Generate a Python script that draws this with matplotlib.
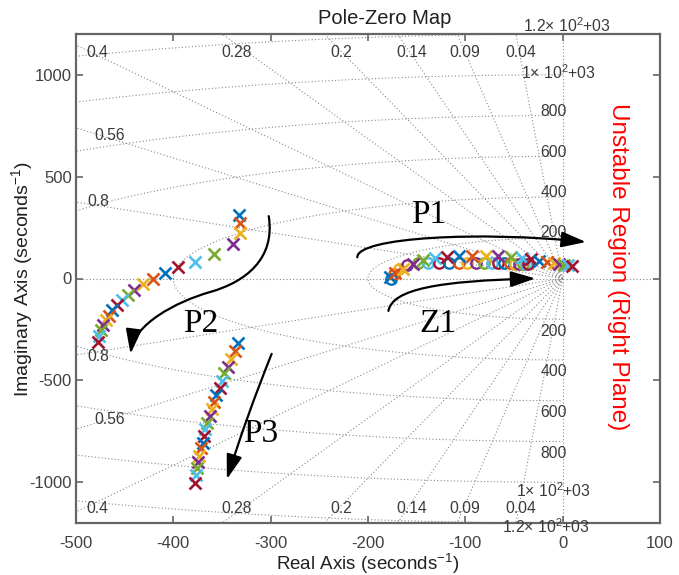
import numpy as np
import matplotlib
matplotlib.use('Agg')
import matplotlib.pyplot as plt
from matplotlib.path import Path
from matplotlib.patches import FancyArrowPatch

plt.rcParams['font.family'] = ['Liberation Sans', 'DejaVu Sans']
plt.rcParams['mathtext.fontset'] = 'custom'
plt.rcParams['mathtext.rm'] = 'Liberation Sans'
plt.rcParams['mathtext.it'] = 'Liberation Sans:italic'
plt.rcParams['axes.unicode_minus'] = False

# MATLAB default colour order
colors = ['#0072BD', '#D95319', '#EDB120', '#7E2F8E', '#77AC30', '#4DBEEE', '#A2142F']

# ---- data ----
p2_real = [-333, -331, -331, -339, -358, -378, -395, -409, -421, -431, -440,
           -447, -453, -458, -463, -466, -469, -472, -474, -476, -477]
p2_imag = [310, 270, 221, 167, 119, 82, 54, 26, -2, -28, -56,
           -81, -105, -130, -155, -182, -206, -229, -254, -282, -312]

p3_real = [-334, -337, -341, -344, -348, -350, -352, -356, -358, -360, -362,
           -365, -367, -369, -370, -372, -374, -375, -376, -377, -378]
p3_imag = [-316, -356, -395, -433, -464, -501, -538, -571, -604, -640, -676,
           -711, -738, -771, -805, -834, -869, -903, -932, -963, -1002]

p1_real = [-177, -172, -164, -154, -143, -131, -119, -107, -93, -79, -66,
           -53, -42, -33, -24, -16, -9, -4, 1, 5, 10]
p1_imag = [8, 25, 48, 72, 90, 100, 106, 108, 110, 110, 108,
           105, 100, 95, 88, 80, 75, 70, 66, 64, 62]

z1_real = [-176, -173, -168, -160, -149, -138, -127, -117, -107, -98, -89,
           -81, -73, -66, -60, -54, -49, -45, -41, -38, -36]
z1_imag = [0, 22, 45, 66, 74, 76, 77, 77, 77, 77, 76,
           76, 75, 75, 74, 74, 73, 73, 72, 72, 71]

zeta_values = [0.04, 0.09, 0.14, 0.2, 0.28, 0.4, 0.56, 0.8]
zeta_labels = ['0.04', '0.09', '0.14', '0.2', '0.28', '0.4', '0.56', '0.8']
zeta_label_x = [-43, -101, -155, -227, -335, -478, -465, -477]
zeta_label_y = [1110, 1110, 1110, 1110, 1110, 1110, 700, 378]
zeta_label_y_dn = [-1128, -1128, -1128, -1128, -1128, -1128, -690, -382]

wn_values = [200, 400, 600, 800, 1000, 1200]
wn_labels = ['200', '400', '600', '800', r'1$\times$ 10$^{2}$+03', r'1.2$\times$ 10$^{2}$+03']
wn_label_up_y = [228, 424, 620, 821, 1012, 1243]
wn_label_dn_y = [-262, -458, -659, -860, -1042, -1218]
wn_label_x = [-9, -9, -9, -9, -4, 4]
wn_label_dn_x = [-9, -9, -9, -9, -10, -17]

xticks = [-500, -400, -300, -200, -100, 0, 100]
yticks = [-1000, -500, 0, 500, 1000]

# ---- figure ----
W, H = 679, 575
fig = plt.figure(figsize=(W / 100, H / 100), dpi=100)
ax = fig.add_axes([76 / W, 1 - 523 / H, (660 - 76) / W, (523 - 34) / H])
ax.set_xlim(-500, 100)
ax.set_ylim(-1200, 1200)

gcol = '#8a8a8a'
gkw = dict(color=gcol, ls=(0, (1, 2)), lw=0.8, zorder=1)
# damping lines
for z in zeta_values:
    r = np.array([0.0, 1300.0])
    ax.plot(-z * r, np.sqrt(1 - z * z) * r, **gkw)
    ax.plot(-z * r, -np.sqrt(1 - z * z) * r, **gkw)
# natural frequency semicircles
th = np.linspace(np.pi / 2, 3 * np.pi / 2, 400)
for wn in wn_values:
    ax.plot(wn * np.cos(th), wn * np.sin(th), **gkw)
ax.axhline(0, **gkw)
ax.axvline(0, **gkw)

tcol = '#3a3a3a'
lfs = 11.3
for lab, xl, yu, yd in zip(zeta_labels, zeta_label_x, zeta_label_y, zeta_label_y_dn):
    ax.text(xl, yu, lab, ha='center', va='center', fontsize=lfs, color=tcol, zorder=3)
    ax.text(xl, yd, lab, ha='center', va='center', fontsize=lfs, color=tcol, zorder=3)
for lab, yu, yd, xu, xd in zip(wn_labels, wn_label_up_y, wn_label_dn_y, wn_label_x, wn_label_dn_x):
    ax.text(xu, yu, lab, ha='center', va='center', fontsize=lfs, color=tcol, zorder=3, clip_on=False)
    ax.text(xd, yd, lab, ha='center', va='center', fontsize=lfs, color=tcol, zorder=3, clip_on=False)

# ---- poles and zeros ----
mk = dict(ms=8, mew=1.9, ls='none', zorder=5)
for k in range(len(p2_real)):
    c = colors[k % 7]
    ax.plot(p2_real[k], p2_imag[k], 'x', color=c, **mk)
    ax.plot(p3_real[k], p3_imag[k], 'x', color=c, **mk)
for k in range(len(z1_real)):
    c = colors[k % 7]
    ax.plot(z1_real[k], z1_imag[k], 'o', color=c, mfc='none', ms=7.5, mew=1.7, ls='none', zorder=5)
for k in range(len(p1_real)):
    c = colors[k % 7]
    ax.plot(p1_real[k], p1_imag[k], 'x', color=c, **mk)

# ---- arrows ----
astyle = '-|>,head_length=0.75,head_width=0.24'
def curved_arrow(verts, codes):
    a = FancyArrowPatch(path=Path(verts, codes), arrowstyle=astyle, mutation_scale=20,
                        color='black', lw=1.6, zorder=6)
    ax.add_patch(a)

C4 = Path.CURVE4
curved_arrow([(-302, 306), (-295, 96), (-326, -17), (-362, -66),
              (-398, -115), (-440, -225), (-444, -370)],
             [Path.MOVETO, C4, C4, C4, C4, C4, C4])
curved_arrow([(-299, -370), (-325, -679), (-345, -985)],
             [Path.MOVETO, Path.CURVE3, Path.CURVE3])
curved_arrow([(-211, 104), (-211, 203), (-84, 233), (24, 179)],
             [Path.MOVETO, C4, C4, C4])
curved_arrow([(-179, -159), (-175, -51), (-126, -12), (-28, 0)],
             [Path.MOVETO, C4, C4, C4])

serif = ['Liberation Serif', 'DejaVu Serif']
ax.text(-138, 311, 'P1', fontsize=24, family=serif, ha='center', va='center', zorder=7)
ax.text(-372, -223, 'P2', fontsize=24, family=serif, ha='center', va='center', zorder=7)
ax.text(-310, -762, 'P3', fontsize=24, family=serif, ha='center', va='center', zorder=7)
ax.text(-128, -223, 'Z1', fontsize=24, family=serif, ha='center', va='center', zorder=7)

ax.text(56.5, 56, 'Unstable Region (Right Plane)', rotation=-90, color='red',
        fontsize=17.5, ha='center', va='center', zorder=7)

# ---- axes styling ----
scol = '#666666'
for sp in ax.spines.values():
    sp.set_color(scol)
    sp.set_linewidth(1.6)
ax.set_xticks(xticks)
ax.set_yticks(yticks)
ax.tick_params(direction='in', length=5, width=1.2, color=scol, labelcolor='#404040',
               labelsize=12, top=True, right=True)
ax.tick_params(axis='x', pad=9)
ax.tick_params(axis='y', pad=3)

fig.text(368 / W, 1 - 564 / H, 'Real Axis (seconds$^{-1}$)', fontsize=13.5, color='#202020',
         ha='center', va='center')
fig.text(22 / W, 1 - 279 / H, 'Imaginary Axis (seconds$^{-1}$)', fontsize=14, color='#202020',
         ha='center', va='center', rotation=90)
fig.text(385 / W, 1 - 18 / H, 'Pole-Zero Map', fontsize=14.5, color='#202020',
         ha='center', va='center')

fig.savefig('out.png', dpi=100)
